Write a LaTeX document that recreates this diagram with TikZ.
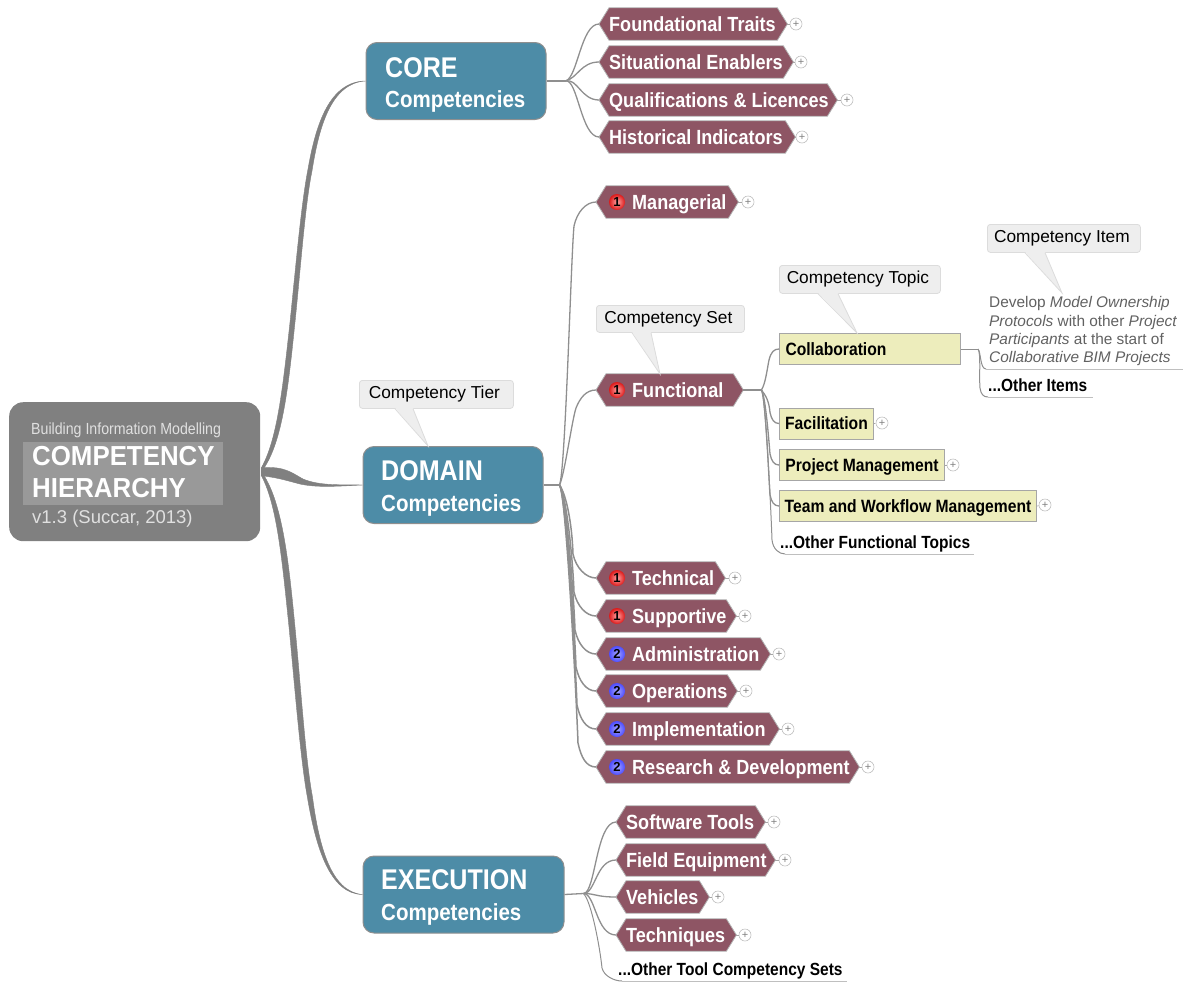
\documentclass[tikz,border=0pt]{standalone}
\usepackage{fontspec}
\setmainfont{Liberation Sans}
\newfontfamily\cond[FakeStretch=0.88]{Liberation Sans}
\newfontfamily\rootf[FakeStretch=0.94]{Liberation Sans}
\usetikzlibrary{calc}
\pgfdeclarelayer{bg}\pgfsetlayers{bg,main}
\definecolor{rootc}{HTML}{808080}
\definecolor{rooti}{HTML}{999999}
\definecolor{bluec}{HTML}{4D8CA7}
\definecolor{hexc}{HTML}{8E5564}
\definecolor{yelc}{HTML}{EDEDBC}
\definecolor{linec}{HTML}{8F8F8F}
\definecolor{callc}{HTML}{EEEEEE}
\definecolor{callb}{HTML}{DCDCDC}
\tikzset{
  x=1pt,y=-1pt,
  rootbox/.style={draw=none,fill=rootc,rounded corners=14pt,minimum width=251pt,minimum height=139pt,inner sep=0},
  bluebox/.style={draw=linec,line width=1pt,fill=bluec,rounded corners=11pt,minimum height=77pt,inner sep=0,text=white,align=left},
  hexlabel/.style={minimum height=32pt,inner sep=0,text=white,text height=14.7pt,text depth=0pt,align=flush left,font=\cond\bfseries\fontsize{20.5}{22}\selectfont},
  hexbody/.style={fill=hexc,draw=black!30,line width=.8pt},
  yelbox/.style={draw=black!35,line width=1pt,fill=yelc,minimum height=31pt,inner sep=0,text height=12.7pt,text depth=0pt,font=\cond\bfseries\fontsize{17.8}{20}\selectfont,text=black},
  plusn/.style={circle,draw=black!25,line width=.6pt,fill=white,minimum size=12pt,inner sep=0,text=black!50,font=\fontsize{11}{11}\selectfont},
  plusl/.style={draw=black!35,line width=.6pt},
  conn/.style={draw=linec,line width=1.3pt},
  connb/.style={draw=linec,line width=1.5pt},
  trunk/.style={fill=rootc,draw=rootc,line width=.4pt},
  under/.style={draw=black!25,line width=.8pt},
  plain/.style={inner sep=0,anchor=west,text height=12.6pt,text depth=0pt,font=\cond\bfseries\fontsize{17.6}{20}\selectfont,text=black},
  callbox/.style={draw=callb,line width=.8pt,fill=callc,rounded corners=3pt,inner sep=0,font=\fontsize{17.3}{20}\selectfont,text=black},
  calltail/.style={draw=callb,line width=.8pt},
  badgeone/.style={circle,inner sep=0,minimum size=16pt,inner color=red!35!white,outer color=red!85!black!90,font=\bfseries\fontsize{13}{13}\selectfont,text=black},
  badgetwo/.style={circle,inner sep=0,minimum size=16pt,inner color=blue!35!white,outer color=blue!70!white,font=\bfseries\fontsize{13}{13}\selectfont,text=black},
}
% [text inset], name, left, right, cy, text
\newcommand{\hexn}[6][10pt]{%
  \node[hexlabel,anchor=west,text width={#4pt-#3pt}] (#2) at (#3,#5) {\hspace*{#1}#6};
  \begin{pgfonlayer}{bg}
  \draw[hexbody] (#2.west) -- ($(#2.north west)+(10,0)$) -- ($(#2.north east)+(-10,0)$) -- (#2.east)
     -- ($(#2.south east)+(-10,0)$) -- ($(#2.south west)+(10,0)$) -- cycle;
  \end{pgfonlayer}}
% name, x, cy (of plus), source
\newcommand{\plusn}[4]{\node[plusn] (#1) at (#2,#3) {+}; \draw[plusl] (#4) -- (#1);}
% name, left, right, top, bottom, text
\newcommand{\calln}[6]{%
  \node[callbox,minimum width={#3pt-#2pt},minimum height={#5pt-#4pt},anchor=north west] (#1) at (#2,#4) {\hspace*{-4pt}#6};}
% name, base x1, base x2, tip
\newcommand{\tailn}[4]{%
  \coordinate (#1p) at (#2,0); \coordinate (#1q) at (#3,0);
  \coordinate (#1a) at (#1p |- #1.south); \coordinate (#1b) at (#1q |- #1.south);
  \fill[callc] ($(#1a)+(0,-1)$) -- (#4) -- ($(#1b)+(0,-1)$) -- cycle;
  \draw[calltail] (#1a) -- (#4) -- (#1b);}
\begin{document}
\begin{tikzpicture}
\useasboundingbox (0,0) rectangle (1183,983);
% root
\node[rootbox,anchor=north west] (root) at (9,402) {};
\node[fill=rooti,anchor=north west,minimum width=200pt,minimum height=63pt,inner sep=0] (rooti) at (23,442) {};
\node[inner sep=0,anchor=west,text=white!88!black,text height=11.5pt,text depth=0pt,font=\cond\fontsize{16.1}{18}\selectfont] (rt1) at (31,429) {Building Information Modelling};
\node[inner sep=0,anchor=west,text=white,text height=19.5pt,text depth=0pt,font=\rootf\bfseries\fontsize{27.5}{30}\selectfont] (rt2) at (32,456) {COMPETENCY};
\node[inner sep=0,anchor=west,text=white,text height=19.5pt,text depth=0pt,font=\rootf\bfseries\fontsize{27.5}{30}\selectfont] (rt3) at (32,488) {HIERARCHY};
\node[inner sep=0,anchor=west,text=white!88!black,text height=13pt,text depth=0pt,font=\fontsize{18.5}{20}\selectfont] (rt4) at (32,517) {v1.3 (Succar, 2013)};
% tier boxes
\node[bluebox,anchor=north west,minimum width=180pt] (core) at (365.5,42) {};
\node[bluebox,anchor=north west,minimum width=180pt] (domain) at (362.5,446) {};
\node[bluebox,anchor=north west,minimum width=201pt] (exec) at (362.5,855.5) {};
\tikzset{big/.style={inner sep=0,anchor=west,text=white,text height=20.4pt,text depth=0pt,font=\cond\bfseries\fontsize{28.5}{32}\selectfont},
         small/.style={inner sep=0,anchor=west,text=white,text height=16.7pt,text depth=0pt,font=\cond\bfseries\fontsize{23.3}{24}\selectfont}}
\node[big] (coret) at (385,67) {CORE};
\node[small] (cores) at (385,99) {Competencies};
\node[big] (domt) at (381,470) {DOMAIN};
\node[small] (doms) at (381,503) {Competencies};
\node[big] (exet) at (381,879) {EXECUTION};
\node[small] (exes) at (381,912) {Competencies};
% root connectors
\coordinate (rtop) at ($(root.east)+(1,-4)$);
\coordinate (rmid) at ($(root.east)+(1,0)$);
\coordinate (rbot) at ($(root.east)+(1,4)$);
\fill[trunk] (rtop) .. controls (277,440) and (282.5,390) .. (289.5,327) .. controls (295.5,270) and (301,205) .. (308,169) .. controls (316,123) and (330,81.5) .. (core.west)
  .. controls (331,83) and (319,127) .. (312,171) .. controls (305,205) and (300.5,270) .. (294.5,327) .. controls (288,390) and (282,445) .. (rmid) -- cycle;
\fill[trunk] (rbot) .. controls (277,505) and (282,559) .. (289,627) .. controls (295,689) and (300.5,760) .. (307.5,798) .. controls (316,848) and (330,894) .. (exec.west)
  .. controls (331,892) and (319,846) .. (312.5,797) .. controls (305.5,760) and (301,689) .. (295,627) .. controls (288.5,559) and (282,500) .. (rmid) -- cycle;
\fill[trunk] (rtop) .. controls (285,466) and (292,473) .. (303,479) .. controls (320,486) and (340,484.5) .. (domain.west)
  .. controls (340,486) and (318,488) .. (300,484) .. controls (288,481) and (280,478) .. (rbot) -- cycle;
% core sets
\hexn{ft}{599}{787}{24}{Foundational Traits}
\hexn{se}{599}{793}{62}{Situational Enablers}
\hexn{ql}{599}{837}{100}{Qualifications \& Licences}
\hexn{hi}{599}{795}{137}{Historical Indicators}
\coordinate (corefork) at ($(core.east)+(19,0)$);
\draw[conn] (core.east) -- (corefork);
\foreach \t in {ft,se,ql,hi}{\draw[conn] (corefork) .. controls +(12,-3) and +(-18,0) .. (\t.west);}
\plusn{pft}{796}{24}{ft.east}
\plusn{pse}{801}{62}{se.east}
\plusn{pql}{847}{100}{ql.east}
\plusn{phi}{802}{137}{hi.east}
% domain sets
\hexn[36pt]{man}{596}{738}{202}{Managerial}
\hexn[36pt]{fun}{596}{743}{390}{Functional}
\hexn[36pt]{tec}{596}{725}{578}{Technical}
\hexn[36pt]{sup}{596}{736}{616}{Supportive}
\hexn[36pt]{adm}{596}{770}{654}{Administration}
\hexn[36pt]{ope}{596}{737}{691}{Operations}
\hexn[36pt]{imp}{596}{779}{729}{Implementation}
\hexn[36pt]{res}{596}{859}{767}{Research \& Development}
\coordinate (domfork) at ($(domain.east)+(16,0)$);
\draw[conn] (domain.east) -- (domfork);
\draw[conn] (domfork) .. controls +(6,-14) and +(-3,30) .. ($(man.west)+(-22,24)$) .. controls +(3,-14) and +(-10,0) .. (man.west);
\draw[conn] (domfork) .. controls +(5,-10) and +(-4,12) .. ($(fun.west)+(-20,18)$) .. controls +(4,-10) and +(-10,0) .. (fun.west);
\foreach \t/\d in {tec/-23,sup/-22,adm/-21,ope/-20,imp/-19,res/-18}{
  \draw[connb] (domfork) .. controls +(7,10) and +(-1,-30) .. ($(\t.west)+(\d,-24)$) .. controls +(3,14) and +(-10,0) .. (\t.west);}
\node[badgeone] (b1) at (617,202) {1};
\node[badgeone] (b2) at (617,390) {1};
\node[badgeone] (b3) at (617,578) {1};
\node[badgeone] (b4) at (617,616) {1};
\node[badgetwo] (b5) at (617,654) {2};
\node[badgetwo] (b6) at (617,691) {2};
\node[badgetwo] (b7) at (617,729) {2};
\node[badgetwo] (b8) at (617,767) {2};
\plusn{pman}{748}{202}{man.east}
\plusn{ptec}{735}{578}{tec.east}
\plusn{psup}{745}{616}{sup.east}
\plusn{padm}{779}{654}{adm.east}
\plusn{pope}{746}{691}{ope.east}
\plusn{pimp}{788}{729}{imp.east}
\plusn{pres}{868}{767}{res.east}
% execution sets
\hexn{sw}{616}{765}{822}{Software Tools}
\hexn{fe}{616}{775}{860}{Field Equipment}
\hexn{ve}{616}{709}{897}{Vehicles}
\hexn{tq}{616}{736}{935}{Techniques}
\coordinate (exefork) at ($(exec.east)+(19,-1)$);
\draw[conn] (exec.east) -- (exefork);
\foreach \t in {sw,fe,ve,tq}{\draw[conn] (exefork) .. controls +(12,0) and +(-20,0) .. (\t.west);}
\plusn{psw}{774}{822}{sw.east}
\plusn{pfe}{785}{860}{fe.east}
\plusn{pve}{718}{897}{ve.east}
\plusn{ptq}{745}{935}{tq.east}
\node[plain] (oth3) at (618,969) {...Other Tool Competency Sets};
\coordinate (oth3a) at (622,981);
\coordinate (oth3b) at (847,981);
\draw[conn,line width=1pt] (exefork) .. controls +(8,8) and +(-2,-20) .. (602,968) .. controls +(2,8) and +(-8,0) .. (oth3a);
\draw[under] (oth3a) -- (oth3b);
% topics
\node[yelbox,anchor=north west,minimum width=181pt,text width=169pt,align=flush left] (col) at (779,333) {Collaboration};
\node[yelbox,anchor=north west,minimum width=94pt] (fac) at (779,407.5) {Facilitation};
\node[yelbox,anchor=north west,minimum width=165pt] (pm) at (779,449) {Project Management};
\node[yelbox,anchor=north west,minimum width=257pt] (tw) at (779,490) {Team and Workflow Management};
\coordinate (funfork) at ($(fun.east)+(18,0)$);
\draw[conn] (fun.east) -- (funfork);
\draw[conn] (funfork) .. controls +(4,-6) and +(-2,10) .. (769,360) .. controls +(2,-8) and +(-5,0) .. (col.west);
\foreach \t in {fac,pm,tw}{\draw[connb,line width=1.3pt] (funfork) .. controls +(4,5) and +(-1,-12) .. ($(\t.west)+(-9,-11)$) .. controls +(1.5,7) and +(-5,0) .. (\t.west);}
\plusn{pfac}{882}{423}{fac.east}
\plusn{ppm}{953}{465}{pm.east}
\plusn{ptw}{1045}{505}{tw.east}
\node[plain] (oth2) at (780,542) {...Other Functional Topics};
\coordinate (oth2a) at (785,554);
\coordinate (oth2b) at (974,554);
\draw[conn,line width=1pt] (funfork) .. controls +(4,5) and +(-1,-30) .. (772,540) .. controls +(1,9) and +(-6,0) .. (oth2a);
\draw[under] (oth2a) -- (oth2b);
% items
\tikzset{itemt/.style={inner sep=0,anchor=west,text=black!62,font=\fontsize{15.4}{18}\selectfont}}
\node[itemt] (i1) at (989,304) {Develop \emph{Model Ownership}};
\node[itemt] (i2) at (989,322.5) {\emph{Protocols} with other \emph{Project}};
\node[itemt] (i3) at (989,341) {\emph{Participants} at the start of};
\node[itemt] (i4) at (989,359) {\emph{Collaborative BIM Projects}};
\coordinate (ua) at (986,369);
\coordinate (ub) at (1183,369);
\coordinate (colfork) at ($(col.east)+(17,0)$);
\draw[conn,line width=1pt] (col.east) -- (colfork);
\draw[conn,line width=1pt] (colfork) .. controls +(3,3) and +(-6,0) .. (ua);
\draw[under] (ua) -- (ub);
\node[plain] (oth1) at (988,385) {...Other Items};
\coordinate (va) at (988,397);
\coordinate (vb) at (1093,397);
\draw[conn,line width=1pt] (colfork) .. controls +(3,3) and +(-1,-10) .. (980,388) .. controls +(1,6) and +(-5,0) .. (va);
\draw[under] (va) -- (vb);
% callouts
\calln{ctier}{359}{513}{380}{408}{Competency Tier}
\calln{cset}{596}{744}{305}{332}{Competency Set}
\calln{ctop}{779}{940}{265}{293}{Competency Topic}
\calln{citem}{987}{1140}{224}{252}{Competency Item}
\coordinate (tiptier) at (428,446);
\coordinate (tipset) at (660,374);
\coordinate (tiptop) at (857,333);
\coordinate (tipitem) at (1062,293);
\tailn{ctier}{395}{413}{tiptier}
\tailn{cset}{632}{651}{tipset}
\tailn{ctop}{818}{838}{tiptop}
\tailn{citem}{1025}{1045}{tipitem}
\end{tikzpicture}
\end{document}
